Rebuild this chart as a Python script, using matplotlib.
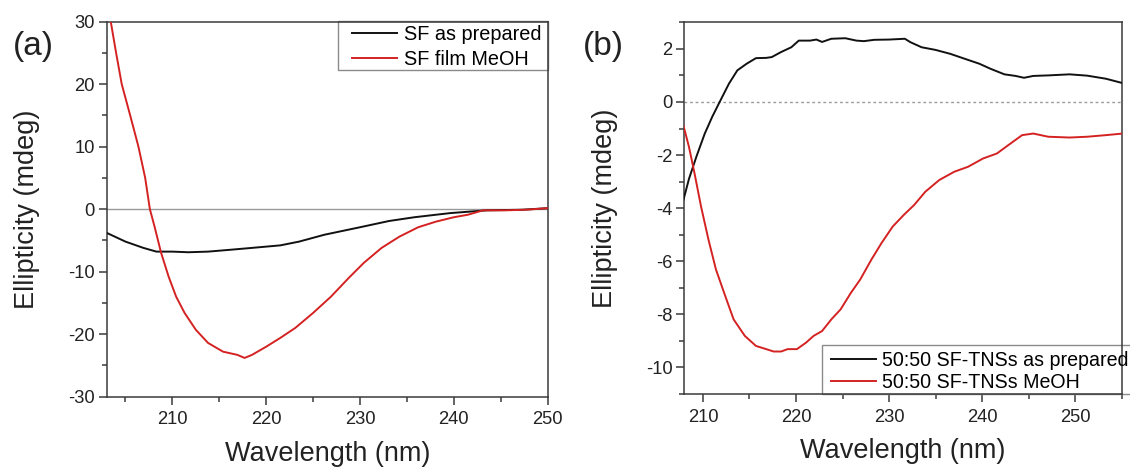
import matplotlib
matplotlib.use("Agg")
import matplotlib.pyplot as plt
from matplotlib.ticker import MultipleLocator
from matplotlib.patches import Rectangle

plt.rcParams['font.family'] = ['Liberation Sans', 'DejaVu Sans']
plt.rcParams['axes.unicode_minus'] = False

# ---------------- Panel (a) data ----------------
a_prep_x = [203, 205, 206.9, 208.3, 210, 211.7, 213.8, 216.2, 218.5, 221.5, 223.5,
            226.2, 230, 233.1, 235.8, 239.6, 243.5, 247.3, 250]
a_prep_y = [-3.8, -5.2, -6.2, -6.8, -6.8, -6.9, -6.8, -6.5, -6.2, -5.8, -5.2,
            -4.1, -2.9, -1.9, -1.3, -0.64, -0.2, -0.1, 0.15]

a_meoh_x = [203.43, 204.0, 204.6, 205.5, 206.38, 207.1, 207.6, 208.1, 208.8,
            209.6, 210.4, 211.3, 212.5, 213.8, 215.4, 216.9, 217.7, 218.5, 220,
            221.5, 223.1, 225, 226.9, 228.8, 230.4, 232.3, 234.2, 236.2, 238.1,
            240, 241.5, 243.1, 245.4, 247.7, 250]
a_meoh_y = [30, 25, 20, 15, 10, 5, 0, -2.8, -7,
            -10.8, -14, -16.6, -19.3, -21.4, -22.8, -23.3, -23.8, -23.3, -22,
            -20.6, -19, -16.6, -14, -11, -8.6, -6.2, -4.4, -2.9, -2.0,
            -1.3, -0.9, -0.2, -0.2, -0.1, 0.15]

# ---------------- Panel (b) data ----------------
b_prep_x = [207.9, 208.5, 209.3, 210.2, 211.0, 211.8, 212.8, 213.7, 214.7, 215.7,
            216.8, 217.4, 218.4, 219.5, 220.3, 221.5, 222.2, 222.8, 223.8, 225.3,
            226.5, 227.3, 228.4, 230, 231.7, 232.3, 233.5, 235.0, 236.6, 238.1,
            239.7, 240.9, 242.4, 243.6, 244.5, 245.5, 247.1, 249.4, 251.3, 253.3, 255.1]
b_prep_y = [-3.7, -2.9, -2.06, -1.19, -0.56, 0.0, 0.69, 1.19, 1.44, 1.65,
            1.66, 1.69, 1.88, 2.06, 2.31, 2.31, 2.35, 2.26, 2.38, 2.4,
            2.31, 2.29, 2.34, 2.35, 2.38, 2.25, 2.06, 1.96, 1.81, 1.63,
            1.44, 1.25, 1.04, 0.98, 0.91, 0.98, 1.0, 1.04, 0.99, 0.875, 0.71]

b_meoh_x = [207.9, 208.5, 209.1, 209.8, 210.6, 211.4, 212.4, 213.3, 214.5, 215.7,
            216.8, 217.6, 218.4, 219.1, 220.1, 221.1, 221.9, 222.8, 223.8, 224.8,
            225.9, 226.9, 228.1, 229.2, 230.4, 231.6, 232.7, 233.9, 235.4, 237,
            238.5, 240.1, 241.6, 242.8, 244.3, 245.5, 247.1, 249.4, 251.3, 253.3, 255.1]
b_meoh_y = [-0.88, -1.69, -2.69, -3.94, -5.19, -6.31, -7.31, -8.19, -8.81, -9.19,
            -9.31, -9.4, -9.4, -9.31, -9.31, -9.06, -8.81, -8.63, -8.19, -7.81,
            -7.19, -6.69, -5.94, -5.31, -4.69, -4.25, -3.88, -3.38, -2.94, -2.63,
            -2.44, -2.13, -1.94, -1.63, -1.25, -1.19, -1.31, -1.34, -1.31, -1.25, -1.19]

labels_a = ["SF as prepared", "SF film MeOH"]
labels_b = ["50:50 SF-TNSs as prepared", "50:50 SF-TNSs MeOH"]
x_ticks = [210, 220, 230, 240, 250]
ya_ticks = [-30, -20, -10, 0, 10, 20, 30]
yb_ticks = [-10, -8, -6, -4, -2, 0, 2]

BLACK = '#111111'
RED = '#d42222'
SPINE = '#3a3a3a'
TXT = '#222222'
FRAME = '#8a8a8a'

W, H = 1130, 468
fig = plt.figure(figsize=(W / 100, H / 100), dpi=100)

def fx(px):
    return px / W

def fy(py):
    return 1 - py / H

def px_axes(l, r, t, b):
    return fig.add_axes([fx(l), fy(b), (r - l) / W, (b - t) / H])

axA = px_axes(106.7, 547.7, 21.5, 396.7)
axB = px_axes(684.3, 1121.7, 22.3, 394.0)

def style(ax):
    for s in ax.spines.values():
        s.set_color(SPINE)
        s.set_linewidth(1.1)
    ax.tick_params(which='both', direction='out', color=SPINE, width=1.1,
                   labelsize=13.2, labelcolor=TXT, top=False, right=False)
    ax.tick_params(which='major', length=5.5)
    ax.tick_params(which='minor', length=3.5)
    ax.tick_params(axis='x', pad=5)
    ax.tick_params(axis='y', pad=3)
    ax.xaxis.set_minor_locator(MultipleLocator(5))
    ax.set_xticks(x_ticks)
    ax.set_xlabel("Wavelength (nm)", fontsize=19.5, color=TXT, labelpad=9)
    ax.set_ylabel("Ellipticity (mdeg)", fontsize=19.5, color=TXT, labelpad=20)

def legend_with_box(ax, anchor_px, box_px, spacing, fs):
    leg = ax.legend(loc='upper left', bbox_to_anchor=(fx(anchor_px[0]), fy(anchor_px[1])),
                    bbox_transform=fig.transFigure, borderaxespad=0, borderpad=0,
                    fontsize=fs, frameon=False, handlelength=2.3,
                    handletextpad=0.33, labelspacing=spacing)
    leg.set_zorder(6)
    l, t, r, b = box_px
    rect = Rectangle((fx(l), fy(b)), (r - l) / W, (b - t) / H,
                     transform=fig.transFigure, facecolor='white',
                     edgecolor=FRAME, lw=1.0, zorder=2, clip_on=False)
    ax.add_artist(rect)
    return leg

# Panel (a)
axA.axhline(0, color='#9a9a9a', lw=1.0, zorder=1)
axA.plot(a_prep_x, a_prep_y, color=BLACK, lw=1.4, label=labels_a[0], zorder=3)
axA.plot(a_meoh_x, a_meoh_y, color=RED, lw=1.4, label=labels_a[1], zorder=3)
axA.set_xlim(203, 250)
axA.set_ylim(-30, 30)
axA.set_yticks(ya_ticks)
axA.yaxis.set_minor_locator(MultipleLocator(5))
style(axA)
legend_with_box(axA, (351.7, 25.0), (338.3, 21.0, 548.3, 70.0), 0.3, 14.3)

# Panel (b)
axB.axhline(0, color='#9a9a9a', lw=1.0, ls=(0, (2, 2)), zorder=1)
axB.plot(b_prep_x, b_prep_y, color=BLACK, lw=1.4, label=labels_b[0], zorder=3)
axB.plot(b_meoh_x, b_meoh_y, color=RED, lw=1.4, label=labels_b[1], zorder=3)
axB.set_xlim(208, 255)
axB.set_ylim(-11, 3)
axB.set_yticks(yb_ticks)
axB.yaxis.set_minor_locator(MultipleLocator(1))
style(axB)
legend_with_box(axB, (830.5, 350.5), (821.7, 345.0, 1140.0, 394.0), 0.19, 14.1)

fig.text(fx(33), fy(46), "(a)", fontsize=24, color=TXT, ha='center', va='center')
fig.text(fx(603), fy(46), "(b)", fontsize=24, color=TXT, ha='center', va='center')

fig.savefig("out.png", dpi=100)
